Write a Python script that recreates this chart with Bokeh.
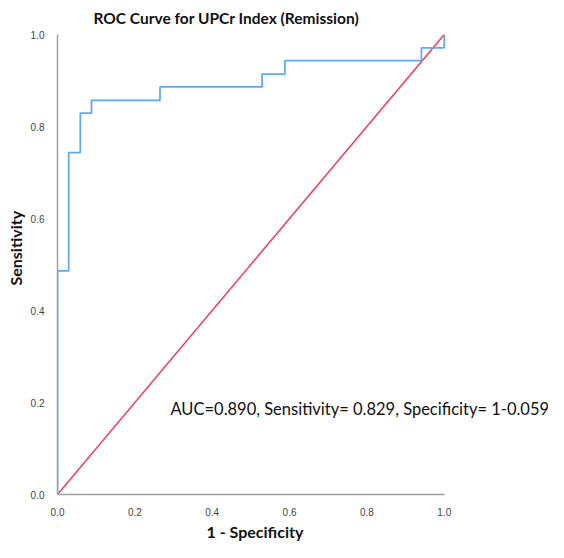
from bokeh.plotting import figure
from bokeh.models import Range1d, Label, FixedTicker, NumeralTickFormatter, Title
from bokeh.embed import file_html
from bokeh.resources import INLINE

# ROC curve breakpoints (1 - specificity, sensitivity)
fpr = [0.0, 0.029, 0.059, 0.088, 0.265, 0.529, 0.588, 0.941, 1.0]
tpr = [0.486, 0.743, 0.829, 0.857, 0.886, 0.914, 0.943, 0.971, 1.0]
ref_x = [0.0, 1.0]
ref_y = [0.0, 1.0]
ticks = [0.0, 0.2, 0.4, 0.6, 0.8, 1.0]
title_text = "ROC Curve for UPCr Index (Remission)"
xlabel_text = "1 - Specificity"
ylabel_text = "Sensitivity"
annot_text = "AUC=0.890, Sensitivity= 0.829, Specificity= 1-0.059"
annot_pos = (0.292, 0.186)

# build step polyline vertices from the breakpoints
xs, ys = [0.0], [0.0]
prev = 0.0
for fx, ty in zip(fpr, tpr):
    xs.append(fx); ys.append(prev)
    xs.append(fx); ys.append(ty)
    prev = ty

FONT = "Lato"
DARK = "#111111"

p = figure(width=548, height=542, x_range=Range1d(0, 1.2695), y_range=Range1d(0, 1),
           output_backend="svg", toolbar_location=None,
           min_border_left=49, min_border_right=0, min_border_top=34, min_border_bottom=43)
p.outline_line_color = None
p.grid.visible = False
p.background_fill_color = "white"

p.title.text = title_text
p.title.text_font = FONT
p.title.text_font_size = "15.5px"
p.title.text_font_style = "bold"
p.title.text_color = DARK
p.title.align = "left"
p.title.offset = 36
p.title.vertical_align = "top"
p.title.standoff = 12

for ax in (p.xaxis[0], p.yaxis[0]):
    ax.ticker = FixedTicker(ticks=ticks)
    ax.formatter = NumeralTickFormatter(format="0.0")
    ax.major_tick_line_color = None
    ax.minor_tick_line_color = None
    ax.axis_line_color = "#a0a0a0"
    ax.axis_line_width = 1.5
    ax.major_label_text_font = "Liberation Sans"
    ax.major_label_text_font_size = "10px"
    ax.major_label_text_color = "#444444"
    ax.major_label_standoff = 7
p.xaxis[0].bounds = (0, 1)

p.add_layout(Title(text=xlabel_text, align="left", offset=149, standoff=3,
                   text_font=FONT, text_font_size="16px", text_font_style="bold",
                   text_color=DARK), "below")
p.add_layout(Title(text=ylabel_text, align="left", offset=209, standoff=6,
                   text_font=FONT, text_font_size="16px", text_font_style="bold",
                   text_color=DARK), "left")

p.line(ref_x, ref_y, line_color="#f2385a", line_width=1.5)
p.line(xs, ys, line_color="#62aaf0", line_width=1.8)

p.add_layout(Label(x=annot_pos[0], y=annot_pos[1], text=annot_text,
                   text_align="left", text_baseline="middle",
                   text_font=FONT, text_font_size="16.5px", text_color=DARK))

open("out.html", "w").write(file_html(p, INLINE))
